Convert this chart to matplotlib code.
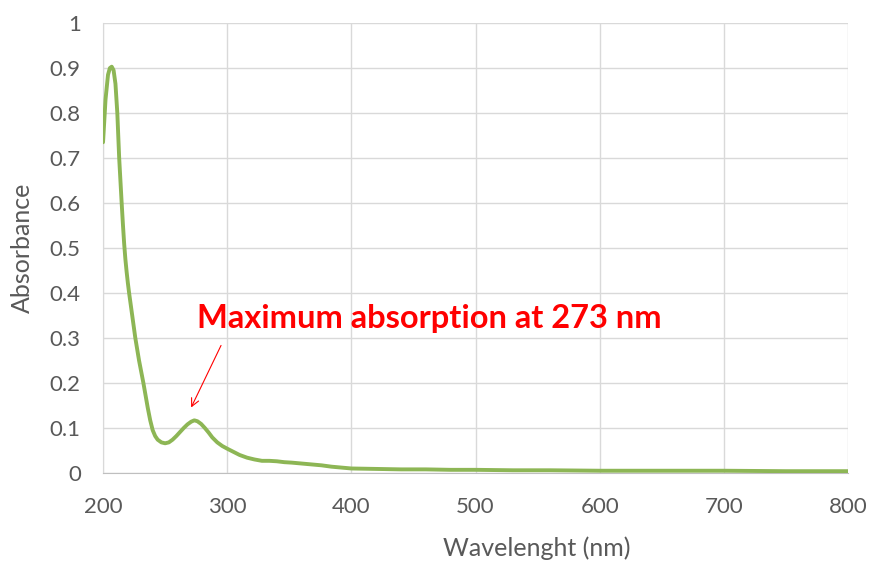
import matplotlib.pyplot as plt

# spectrum
wavelength = [200, 202, 204, 205.5, 207, 208.5, 210, 211.5, 213, 214, 215, 216, 217, 218, 219, 220,
              221, 223.5, 226, 229, 232.5, 236, 238, 240, 242, 244, 247, 250, 253, 256, 259, 262,
              265, 268, 271, 273.5, 276, 279, 282, 285, 288, 292, 296, 300, 305, 310, 316, 322,
              328, 334, 340, 346, 352, 360, 368, 376, 384, 392, 400, 420, 440, 460, 480, 500,
              530, 560, 600, 650, 700, 750, 800]
absorbance = [0.735, 0.83, 0.885, 0.90, 0.903, 0.895, 0.865, 0.80, 0.70, 0.65, 0.60, 0.553, 0.51,
              0.475, 0.447, 0.422, 0.40, 0.35, 0.30, 0.25, 0.20, 0.145, 0.117, 0.095, 0.082, 0.074,
              0.068, 0.066, 0.068, 0.074, 0.082, 0.091, 0.100, 0.108, 0.114, 0.117, 0.115, 0.109,
              0.100, 0.090, 0.079, 0.068, 0.060, 0.054, 0.047, 0.040, 0.034, 0.030, 0.027, 0.027,
              0.026, 0.024, 0.023, 0.021, 0.019, 0.017, 0.014, 0.012, 0.010, 0.009, 0.008, 0.008,
              0.007, 0.007, 0.006, 0.006, 0.005, 0.005, 0.005, 0.004, 0.004]

xticks = [200, 300, 400, 500, 600, 700, 800]
yticks = [0, 0.1, 0.2, 0.3, 0.4, 0.5, 0.6, 0.7, 0.8, 0.9, 1]
ytick_labels = ['0', '0.1', '0.2', '0.3', '0.4', '0.5', '0.6', '0.7', '0.8', '0.9', '1']

plt.rcParams['font.family'] = ['Lato', 'DejaVu Sans']
grey = '#595959'

fig = plt.figure(figsize=(8.71, 5.62), dpi=100)
ax = fig.add_axes([0.1183, 0.1584, 0.8553, 0.8006])

ax.plot(wavelength, absorbance, color='#8DB655', lw=2.8, solid_capstyle='round',
        solid_joinstyle='round', zorder=3)

ax.set_xlim(200, 800)
ax.set_ylim(0, 1)
ax.set_xticks(xticks)
ax.set_yticks(yticks)
ax.set_yticklabels(ytick_labels)
ax.grid(True, color='#D9D9D9', lw=1)
ax.set_axisbelow(True)
for s in ['top', 'right']:
    ax.spines[s].set_visible(False)
ax.spines['left'].set_color('#D9D9D9')
ax.spines['bottom'].set_color('#BFBFBF')
ax.tick_params(length=0, labelsize=16, labelcolor=grey)
ax.tick_params(axis='x', pad=17)
ax.tick_params(axis='y', pad=16)

fig.text(537 / 871, 1 - 548 / 562, 'Wavelenght (nm)', fontsize=18, color=grey,
         ha='center', va='center')
fig.text(22 / 871, 1 - 248 / 562, 'Absorbance', fontsize=18, color=grey,
         ha='center', va='center', rotation=90)

ax.annotate('', xy=(270, 0.14), xytext=(296, 0.289),
            arrowprops=dict(arrowstyle='->', color='red', lw=0.8, mutation_scale=14))
ax.text(275.7, 0.344, 'Maximum absorption at 273 nm', color='red', fontsize=23.5,
        fontweight='bold', ha='left', va='center')

fig.savefig('out.png', dpi=100)
